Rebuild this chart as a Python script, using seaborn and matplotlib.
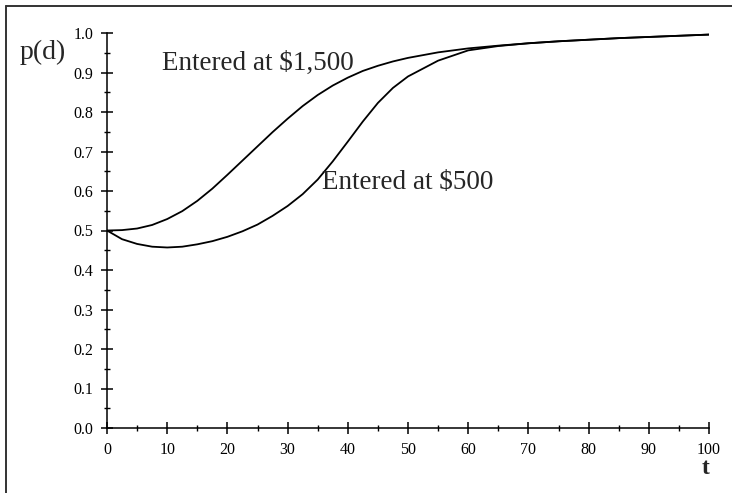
import numpy as np
import pandas as pd
import seaborn as sns
import matplotlib.pyplot as plt
from matplotlib.lines import Line2D

# values
t = [0, 2.5, 5, 7.5, 10, 12.5, 15, 17.5, 20, 22.5, 25, 27.5, 30, 32.5, 35,
     37.5, 40, 42.5, 45, 47.5, 50, 55, 60, 65, 70, 75, 80, 85, 90, 95, 100]
p_1500 = [0.500, 0.501, 0.505, 0.514, 0.529, 0.549, 0.575, 0.606, 0.641, 0.677,
          0.713, 0.749, 0.783, 0.815, 0.843, 0.867, 0.887, 0.904, 0.917, 0.928,
          0.937, 0.951, 0.961, 0.968, 0.974, 0.979, 0.983, 0.987, 0.990, 0.993, 0.996]
p_500 = [0.500, 0.478, 0.466, 0.459, 0.457, 0.459, 0.465, 0.473, 0.484, 0.498,
         0.515, 0.537, 0.562, 0.592, 0.629, 0.675, 0.725, 0.776, 0.823, 0.861,
         0.890, 0.930, 0.956, 0.967, 0.974, 0.979, 0.983, 0.987, 0.990, 0.993, 0.996]
labels = ["Entered at \\$1,500", "Entered at \\$500"]

df = pd.DataFrame({
    "t": t + t,
    "p": p_1500 + p_500,
    "series": [labels[0]] * len(t) + [labels[1]] * len(t),
})

sns.set_style("ticks")
plt.rcParams["font.family"] = ["Liberation Serif", "DejaVu Serif"]

fig = plt.figure(figsize=(7.32, 4.93), dpi=100)
ax = fig.add_axes([107 / 732, 65 / 493, 602 / 732, 395 / 493])

sns.lineplot(data=df, x="t", y="p", hue="series", palette=["black", "black"],
             legend=False, linewidth=1.3, ax=ax)

ax.set_xlim(0, 100)
ax.set_ylim(0, 1.0)
ax.set_xticks(np.arange(0, 101, 10))
ax.set_xticks(np.arange(5, 100, 10), minor=True)
ax.set_yticks(np.arange(0, 1.01, 0.1))
ax.set_yticks(np.arange(0.05, 1.0, 0.1), minor=True)
ax.set_yticklabels([f"{v:.1f}" for v in np.arange(0, 1.01, 0.1)])
ax.tick_params(which="major", direction="inout", length=8, width=1.1,
               labelsize=11.5, color="black", labelcolor="black")
ax.tick_params(which="minor", direction="inout", length=4, width=1.0, color="black")
ax.tick_params(axis="x", which="major", pad=6)
ax.tick_params(axis="y", which="major", pad=6)
ax.set_xlabel("")
ax.set_ylabel("")
sns.despine(ax=ax)
for s in ["left", "bottom"]:
    ax.spines[s].set_color("black")
    ax.spines[s].set_linewidth(1.1)
ax.patch.set_alpha(0)

ax.text(9.1, 0.906, labels[0], fontsize=19.5, va="baseline", ha="left")
ax.text(35.7, 0.604, labels[1], fontsize=19.5, va="baseline", ha="left")

fig.text(20 / 732, 1 - 52 / 493, "p(d)", fontsize=20, va="center", ha="left")
fig.text(706 / 732, 1 - 468 / 493, "t", fontsize=17, fontweight="bold",
         va="center", ha="center")

# outer frame (left and top edges)
fig.add_artist(Line2D([5.5 / 732, 5.5 / 732], [0, 1 - 5.5 / 493],
                      transform=fig.transFigure, color="#333333", linewidth=1.4))
fig.add_artist(Line2D([5.5 / 732, 1], [1 - 5.5 / 493, 1 - 5.5 / 493],
                      transform=fig.transFigure, color="#333333", linewidth=1.4))

fig.savefig("out.png", dpi=100)
